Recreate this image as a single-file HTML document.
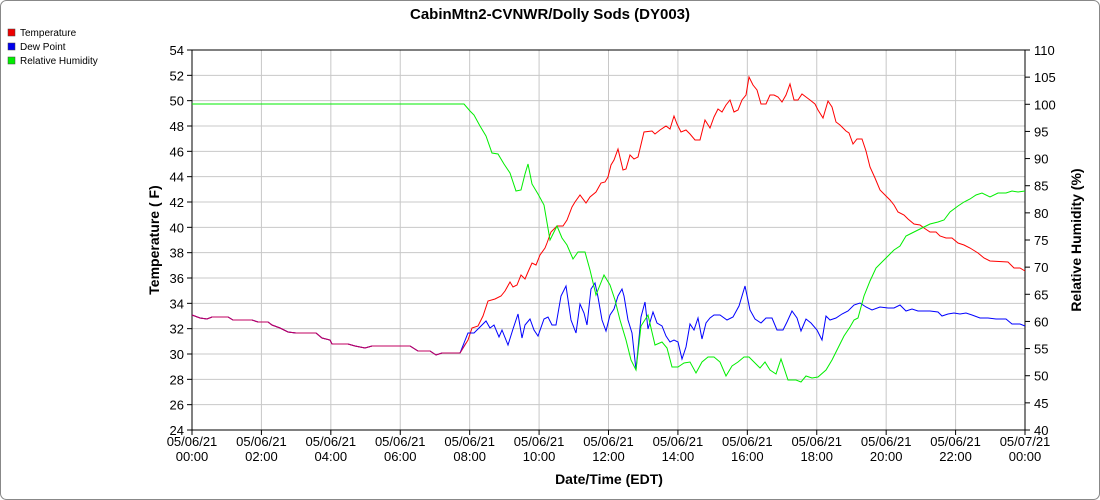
<!DOCTYPE html><html><head><style>body{margin:0;background:#fff}svg{display:block;font-family:"Liberation Sans",Arial,sans-serif}</style></head><body>
<svg width="1100" height="500" viewBox="0 0 1100 500">
<rect x="0.5" y="0.5" width="1099" height="499" rx="6" fill="#fff" stroke="#888"/>
<text x="550" y="19" text-anchor="middle" font-size="15" font-weight="bold">CabinMtn2-CVNWR/Dolly Sods (DY003)</text>
<g font-size="10">
<rect x="8" y="29" width="7" height="7" fill="#e00" stroke="#444" stroke-width=".5"/><text x="20" y="36">Temperature</text>
<rect x="8" y="43" width="7" height="7" fill="#00e" stroke="#444" stroke-width=".5"/><text x="20" y="50">Dew Point</text>
<rect x="8" y="57" width="7" height="7" fill="#0e0" stroke="#444" stroke-width=".5"/><text x="20" y="64">Relative Humidity</text>
</g>
<g id="grid" stroke="#c8c8c8" stroke-width="1"></g>
<g id="ticks" font-size="13"></g>
<polyline fill="none" stroke="#000" stroke-width="1.5" points="192,50 192,430 1025,430 1025,50 192,50" stroke-opacity="0"/>
<line x1="192" y1="50" x2="1025" y2="50" stroke="#000"/>
<line x1="192" y1="50" x2="192" y2="430" stroke="#000"/>
<line x1="1025" y1="50" x2="1025" y2="430" stroke="#000"/>
<line x1="192" y1="430" x2="1025" y2="430" stroke="#000"/>
<polyline fill="none" stroke="#f00" stroke-width="1" points="192,315 200,318 207,319 212,317 220,317 228,317 233,320 245,320 252,320 258,322 268,322 272,325 280,328 288,332 296,333 316,333 322,338 330,340 332,344 348,344 355,346 365,348 372,346 410,346 418,351 430,351 436,355 442,353 460,353 468,340 472,328 478,326 483,316 488,301 495,299 501,296 505,291 510,282 513,287 517,285 521,275 525,279 528,272 532,263 536,265 540,255 545,248 547,243 551,232 557,226 563,226 567,220 572,207 575,202 580,195 586,203 590,197 596,192 601,183 605,182 608,177 611,165 614,160 618,149 623,170 626,169 630,155 634,159 638,157 644,132 652,131 655,134 660,130 666,126 670,129 674,116 677,124 681,132 686,130 690,134 695,140 700,140 705,120 710,128 714,117 718,109 722,112 726,105 730,100 734,112 738,110 742,100 746,95 749,77 753,85 757,90 761,104 766,104 770,95 774,95 778,97 782,102 786,95 790,84 794,100 798,100 802,94 806,97 810,100 815,104 818,110 823,118 828,101 832,107 836,122 840,125 846,131 849,133 853,144 857,139 862,139 866,151 870,167 875,178 880,190 886,196 890,200 894,205 898,212 904,215 908,219 914,224 920,225 924,228 930,232 936,232 940,236 946,238 952,238 958,243 964,245 970,248 978,253 984,258 990,261 1008,262 1014,268 1020,268 1025,271"/>
<polyline fill="none" stroke="#00f" stroke-width="1" points="192,315 200,318 207,319 212,317 220,317 228,317 233,320 245,320 252,320 258,322 268,322 272,325 280,328 288,332 296,333 316,333 322,338 330,340 332,344 348,344 355,346 365,348 372,346 410,346 418,351 430,351 436,355 442,353 460,353 468,333 474,333 480,327 486,321 490,328 494,325 499,337 502,330 508,345 513,329 518,314 522,338 525,325 530,319 534,330 538,336 544,319 548,317 552,325 556,325 561,296 566,286 571,320 576,333 580,304 584,313 587,325 591,289 595,283 598,297 602,320 606,331 610,315 614,309 618,296 622,289 624,296 628,320 632,333 636,370 641,317 645,302 648,329 653,312 657,323 662,326 666,336 670,342 674,340 678,342 682,359 686,347 690,324 694,330 698,318 702,339 706,323 710,318 714,315 720,315 727,320 733,317 739,306 745,286 750,310 755,319 761,323 766,318 772,318 777,330 783,330 787,322 792,311 797,318 801,331 806,319 811,323 817,330 822,340 826,316 830,320 836,318 842,314 848,311 854,305 860,303 866,307 872,310 880,307 888,308 894,308 900,305 906,311 912,309 918,311 930,311 938,312 942,316 948,314 954,313 960,314 966,313 972,315 980,318 988,318 996,319 1006,319 1012,324 1020,324 1025,326"/>
<polyline fill="none" stroke="#c00060" stroke-width="1" points="192,315 200,318 207,319 212,317 220,317 228,317 233,320 245,320 252,320 258,322 268,322 272,325 280,328 288,332 296,333 316,333 322,338 330,340 332,344 348,344 355,346 365,348 372,346 410,346 418,351 430,351 436,355 442,353 460,353 466,343"/>
<polyline fill="none" stroke="#0e0" stroke-width="1" points="192,104 464,104 470,111 474,115 480,126 486,136 492,153 498,154 504,164 510,173 516,191 521,190 525,174 528,164 532,184 538,194 544,205 550,240 557,226 562,238 567,245 573,259 578,252 585,252 590,270 596,295 600,285 604,275 610,285 615,300 620,320 626,340 631,360 636,370 641,326 648,315 655,345 662,342 667,348 672,367 678,367 684,363 690,362 696,373 702,362 708,357 714,357 720,362 726,376 732,366 738,362 744,357 749,357 755,363 760,368 765,362 770,370 776,374 781,359 788,380 796,380 801,382 806,376 812,378 818,377 826,370 832,360 838,348 844,336 850,327 854,320 858,318 864,296 870,281 876,268 882,262 888,256 894,250 900,246 906,236 912,233 918,230 924,227 930,224 938,222 944,220 950,212 958,206 964,202 970,199 976,195 982,193 990,197 998,193 1006,193 1012,191 1018,192 1025,191"/>
<text transform="translate(159,240) rotate(-90)" text-anchor="middle" font-size="14" font-weight="bold">Temperature ( F)</text>
<text transform="translate(1081,240) rotate(-90)" text-anchor="middle" font-size="14" font-weight="bold">Relative Humidity (%)</text>
<text x="609" y="484" text-anchor="middle" font-size="14" font-weight="bold">Date/Time (EDT)</text>
</svg>
<script>
var ns="http://www.w3.org/2000/svg",g=document.getElementById("grid"),t=document.getElementById("ticks");
function el(p,n,a,txt){var e=document.createElementNS(ns,n);for(var k in a)e.setAttribute(k,a[k]);if(txt!=null)e.textContent=txt;p.appendChild(e);return e;}
for(var i=0;i<=15;i++){var y=50+i*380/15,v=54-2*i;
 if(i>0&&i<15)el(g,"line",{x1:192,x2:1025,y1:y,y2:y});
 el(t,"line",{x1:187,x2:192,y1:y,y2:y,stroke:"#000"});
 el(t,"text",{x:184,y:y+5,"text-anchor":"end"},v);}
for(var i=0;i<=14;i++){var y=50+i*380/14,v=110-5*i;
 el(t,"line",{x1:1025,x2:1030,y1:y,y2:y,stroke:"#000"});
 el(t,"text",{x:1034,y:y+5},v);}
var hrs=["00:00","02:00","04:00","06:00","08:00","10:00","12:00","14:00","16:00","18:00","20:00","22:00","00:00"];
for(var i=0;i<=12;i++){var x=192+i*833/12;
 if(i>0&&i<12)el(g,"line",{x1:x,x2:x,y1:50,y2:430});
 el(t,"line",{x1:x,x2:x,y1:430,y2:435,stroke:"#000"});
 el(t,"text",{x:x,y:446,"text-anchor":"middle"},i==12?"05/07/21":"05/06/21");
 el(t,"text",{x:x,y:461,"text-anchor":"middle"},hrs[i]);}
</script>
</body></html>
